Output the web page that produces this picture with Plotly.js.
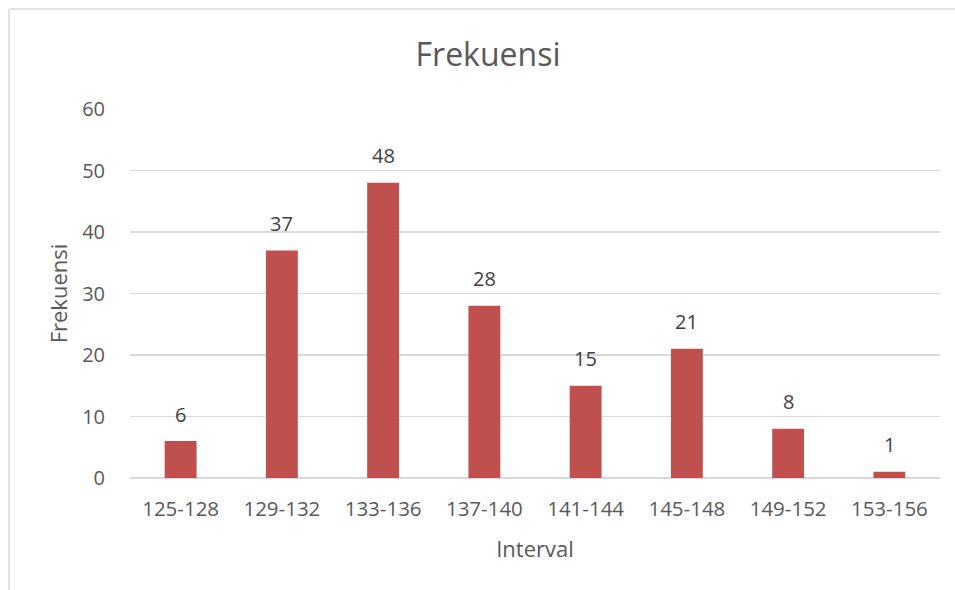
<!DOCTYPE html>
<html>
<head>
<meta charset="utf-8">
<script src="https://cdn.plot.ly/plotly-3.0.1.min.js"></script>
<style>html,body{margin:0;padding:0;background:#fff;}#chart{width:955px;height:590px;}</style>
</head>
<body>
<div id="chart"></div>
<script>
const categories = ["125-128","129-132","133-136","137-140","141-144","145-148","149-152","153-156"];
const frequencies = [6, 37, 48, 28, 15, 21, 8, 1];
const yTicks = [0, 10, 20, 30, 40, 50, 60];

const L = 130, R = 15, T = 109, B = 112, W = 955, H = 590;
const pw = W - L - R, ph = H - T - B;
const font = "Open Sans, Noto Sans, sans-serif";

const trace = {
  type: "bar",
  x: categories,
  y: frequencies,
  marker: {color: "#c0504d", line: {color: "#c0504d", width: 0}},
  hoverinfo: "none"
};

const labels = categories.map((c, i) => ({
  x: c, y: frequencies[i], xref: "x", yref: "y",
  text: String(frequencies[i]), showarrow: false,
  yanchor: "middle", xanchor: "center", yshift: 27,
  font: {family: font, size: 20, color: "#404040"}
}));

const layout = {
  width: W, height: H,
  margin: {l: L, r: R, t: T, b: B, pad: 0},
  paper_bgcolor: "#ffffff",
  plot_bgcolor: "#ffffff",
  bargap: 0.685,
  showlegend: false,
  font: {family: font, color: "#595959"},
  title: {text: "Frekuensi", x: 488 / W, xref: "container", xanchor: "center",
          y: 1 - 55 / H, yref: "container", yanchor: "middle",
          font: {family: font, size: 32, color: "#595959"}},
  xaxis: {
    type: "category",
    tickfont: {family: font, size: 20.5, color: "#595959"},
    showgrid: false, showline: false, ticks: "",
    ticklabelstandoff: 16,
    title: {text: "Interval", standoff: 21, font: {family: font, size: 22, color: "#595959"}}
  },
  yaxis: {
    range: [0, 60],
    tickvals: yTicks,
    tickfont: {family: font, size: 20, color: "#595959"},
    showgrid: true, gridcolor: "#d9d9d9", gridwidth: 1.5,
    zeroline: true, zerolinecolor: "#d9d9d9", zerolinewidth: 2,
    showline: false, ticks: "",
    ticklabelstandoff: 24,
    title: {text: "Frekuensi", standoff: 8, font: {family: font, size: 22, color: "#595959"}}
  },
  annotations: labels,
  shapes: [
    {type: "line", xref: "paper", yref: "paper",
     x0: (9 - L) / pw, x1: (W + 20 - L) / pw, y0: 1 + (T - 9) / ph, y1: 1 + (T - 9) / ph,
     line: {color: "#d9d9d9", width: 1.5}},
    {type: "line", xref: "paper", yref: "paper",
     x0: (9 - L) / pw, x1: (9 - L) / pw, y0: 1 + (T - 9) / ph, y1: -(B + 20) / ph,
     line: {color: "#d9d9d9", width: 1.5}}
  ]
};

Plotly.newPlot("chart", [trace], layout, {displayModeBar: false, staticPlot: true});
</script>
</body>
</html>
